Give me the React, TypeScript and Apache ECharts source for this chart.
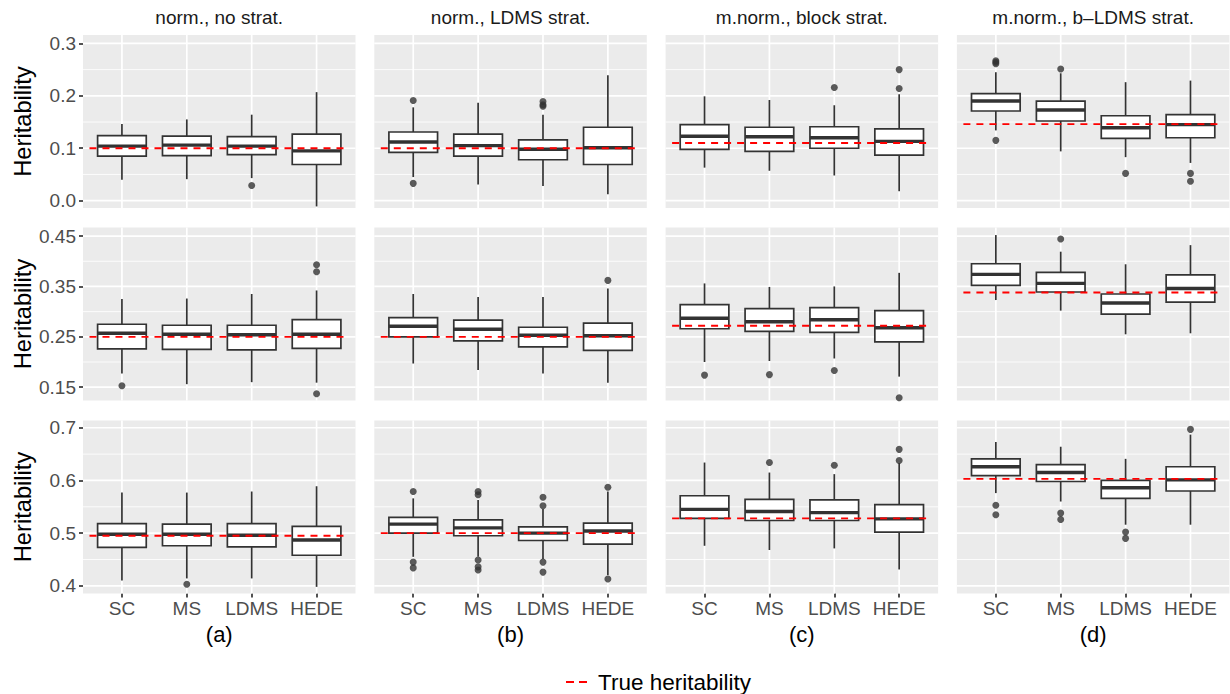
import React, { useEffect, useRef } from 'react';
import * as echarts from 'echarts';

// ---------- data ----------
const CATEGORIES = ['SC', 'MS', 'LDMS', 'HEDE'];
const COLUMN_TITLES = ['norm., no strat.', 'norm., LDMS strat.', 'm.norm., block strat.', 'm.norm., b\u2013LDMS strat.'];
const COLUMN_LABELS = ['(a)', '(b)', '(c)', '(d)'];
const Y_TITLE = 'Heritability';
const LEGEND_LABEL = 'True heritability';

// y-axis limits, ticks per row
const Y_LIMITS = [[-0.014, 0.316], [0.1236, 0.467], [0.3854, 0.7138]];
const Y_TICKS = [[0, 0.1, 0.2, 0.3], [0.15, 0.25, 0.35, 0.45], [0.4, 0.5, 0.6, 0.7]];
const Y_TICK_LABELS = [['0.0', '0.1', '0.2', '0.3'], ['0.15', '0.25', '0.35', '0.45'], ['0.4', '0.5', '0.6', '0.7']];
const Y_MINOR = [[0.05, 0.15, 0.25], [0.2, 0.3, 0.4], [0.45, 0.55, 0.65]];

// true heritability per row (rows) and column
const TRUE_H = [
  [0.1, 0.1, 0.11, 0.146],
  [0.25, 0.25, 0.272, 0.338],
  [0.495, 0.5, 0.528, 0.603],
];

// box stats: [lower whisker, Q1, median, Q3, upper whisker] for SC, MS, LDMS, HEDE
const BOX_R1_A = [[0.040, 0.085, 0.104, 0.124, 0.146], [0.041, 0.086, 0.106, 0.123, 0.155], [0.043, 0.088, 0.104, 0.122, 0.164], [-0.011, 0.069, 0.095, 0.127, 0.207]];
const BOX_R1_B = [[0.045, 0.092, 0.112, 0.131, 0.178], [0.031, 0.085, 0.105, 0.127, 0.187], [0.028, 0.078, 0.098, 0.116, 0.164], [0.012, 0.069, 0.101, 0.140, 0.239]];
const BOX_R1_C = [[0.063, 0.098, 0.123, 0.145, 0.199], [0.057, 0.094, 0.122, 0.140, 0.192], [0.048, 0.100, 0.120, 0.141, 0.182], [0.018, 0.087, 0.113, 0.137, 0.203]];
const BOX_R1_D = [[0.134, 0.171, 0.190, 0.204, 0.245], [0.094, 0.152, 0.173, 0.190, 0.243], [0.083, 0.119, 0.139, 0.162, 0.226], [0.072, 0.120, 0.145, 0.164, 0.229]];
const BOX_R2_A = [[0.177, 0.226, 0.257, 0.275, 0.325], [0.156, 0.225, 0.255, 0.273, 0.326], [0.160, 0.224, 0.254, 0.273, 0.335], [0.159, 0.227, 0.255, 0.284, 0.342]];
const BOX_R2_B = [[0.197, 0.250, 0.271, 0.288, 0.335], [0.184, 0.242, 0.265, 0.283, 0.329], [0.177, 0.230, 0.253, 0.269, 0.329], [0.159, 0.223, 0.252, 0.277, 0.346]];
const BOX_R2_C = [[0.200, 0.266, 0.287, 0.314, 0.356], [0.202, 0.261, 0.280, 0.306, 0.349], [0.207, 0.259, 0.284, 0.308, 0.350], [0.171, 0.240, 0.268, 0.302, 0.377]];
const BOX_R2_D = [[0.323, 0.352, 0.374, 0.395, 0.452], [0.302, 0.339, 0.356, 0.378, 0.419], [0.255, 0.295, 0.317, 0.335, 0.394], [0.257, 0.319, 0.346, 0.373, 0.432]];
const BOX_R3_A = [[0.410, 0.473, 0.498, 0.518, 0.577], [0.414, 0.476, 0.498, 0.517, 0.577], [0.414, 0.474, 0.496, 0.518, 0.579], [0.398, 0.458, 0.487, 0.513, 0.589]];
const BOX_R3_B = [[0.455, 0.500, 0.517, 0.530, 0.566], [0.455, 0.495, 0.510, 0.525, 0.563], [0.451, 0.486, 0.500, 0.512, 0.546], [0.420, 0.479, 0.504, 0.519, 0.579]];
const BOX_R3_C = [[0.476, 0.528, 0.545, 0.571, 0.634], [0.468, 0.524, 0.541, 0.564, 0.615], [0.471, 0.524, 0.539, 0.563, 0.612], [0.431, 0.502, 0.527, 0.554, 0.633]];
const BOX_R3_D = [[0.576, 0.609, 0.626, 0.641, 0.673], [0.560, 0.598, 0.615, 0.630, 0.664], [0.516, 0.566, 0.586, 0.600, 0.641], [0.516, 0.580, 0.601, 0.626, 0.687]];

// outliers: [category, value]
const OUT_R1_A = [['LDMS', 0.029]];
const OUT_R1_B = [['SC', 0.191], ['SC', 0.033], ['LDMS', 0.189], ['LDMS', 0.183], ['LDMS', 0.180]];
const OUT_R1_C = [['LDMS', 0.216], ['HEDE', 0.250], ['HEDE', 0.214]];
const OUT_R1_D = [['SC', 0.267], ['SC', 0.264], ['SC', 0.261], ['SC', 0.115], ['MS', 0.251], ['LDMS', 0.052], ['HEDE', 0.052], ['HEDE', 0.037]];
const OUT_R2_A = [['SC', 0.153], ['HEDE', 0.393], ['HEDE', 0.379], ['HEDE', 0.137]];
const OUT_R2_B = [['HEDE', 0.362]];
const OUT_R2_C = [['SC', 0.174], ['MS', 0.175], ['LDMS', 0.183], ['HEDE', 0.129]];
const OUT_R2_D = [['MS', 0.444]];
const OUT_R3_A = [['MS', 0.403]];
const OUT_R3_B = [['SC', 0.579], ['SC', 0.445], ['SC', 0.434], ['MS', 0.579], ['MS', 0.573], ['MS', 0.449], ['MS', 0.436], ['MS', 0.430], ['LDMS', 0.568], ['LDMS', 0.552], ['LDMS', 0.445], ['LDMS', 0.426], ['HEDE', 0.587], ['HEDE', 0.413]];
const OUT_R3_C = [['MS', 0.634], ['LDMS', 0.629], ['HEDE', 0.659], ['HEDE', 0.638]];
const OUT_R3_D = [['SC', 0.553], ['SC', 0.535], ['MS', 0.538], ['MS', 0.526], ['LDMS', 0.502], ['LDMS', 0.490], ['HEDE', 0.697]];

const BOXES = [
  [BOX_R1_A, BOX_R1_B, BOX_R1_C, BOX_R1_D],
  [BOX_R2_A, BOX_R2_B, BOX_R2_C, BOX_R2_D],
  [BOX_R3_A, BOX_R3_B, BOX_R3_C, BOX_R3_D],
];
const OUTLIERS = [
  [OUT_R1_A, OUT_R1_B, OUT_R1_C, OUT_R1_D],
  [OUT_R2_A, OUT_R2_B, OUT_R2_C, OUT_R2_D],
  [OUT_R3_A, OUT_R3_B, OUT_R3_C, OUT_R3_D],
];

// ---------- layout / style ----------
const FONT = 'Liberation Sans, Arial, Helvetica, sans-serif';
const GRID_LEFT0 = 83;
const COL_STEP = 291.3;
const GRID_W = 272.5;
const ROW_TOPS = [35, 227.5, 420.5];
const GRID_H = 173;
const X_MIN = 0.4;
const X_MAX = 4.6;
const BOX_WIDTH = 0.75;
const LINE_COL = '#333333';

function buildOption() {
  const grids: any[] = [];
  const xAxes: any[] = [];
  const yAxes: any[] = [];
  const series: any[] = [];
  const graphics: any[] = [];
  const catPos = CATEGORIES.map((_, i) => i + 1);

  for (let r = 0; r < 3; r++) {
    for (let c = 0; c < 4; c++) {
      const p = r * 4 + c;
      const [yMin, yMax] = Y_LIMITS[r];
      grids.push({
        left: GRID_LEFT0 + c * COL_STEP,
        top: ROW_TOPS[r],
        width: GRID_W,
        height: GRID_H,
        show: true,
        backgroundColor: '#EBEBEB',
        borderWidth: 0,
      });
      xAxes.push({
        type: 'value',
        gridIndex: p,
        min: X_MIN,
        max: X_MAX,
        axisLine: { show: false },
        splitLine: { show: false },
        axisTick: { show: r === 2, customValues: catPos, length: 4, lineStyle: { color: LINE_COL, width: 1.7 } },
        axisLabel: {
          show: r === 2,
          customValues: catPos,
          formatter: (v: number) => CATEGORIES[Math.round(v) - 1],
          color: '#4D4D4D',
          fontSize: 19,
          fontFamily: FONT,
          margin: 5,
        },
        name: r === 2 ? COLUMN_LABELS[c] : '',
        nameLocation: 'middle',
        nameGap: 30,
        nameTextStyle: { color: '#000', fontSize: 22, fontFamily: FONT },
      });
      const ticks = Y_TICKS[r];
      const labels = Y_TICK_LABELS[r];
      yAxes.push({
        type: 'value',
        gridIndex: p,
        min: yMin,
        max: yMax,
        axisLine: { show: false },
        splitLine: { show: false },
        axisTick: { show: c === 0, customValues: ticks, length: 4, lineStyle: { color: LINE_COL, width: 1.7 } },
        axisLabel: {
          show: c === 0,
          customValues: ticks,
          formatter: (v: number) => {
            const i = ticks.findIndex((t) => Math.abs(t - v) < 1e-9);
            return i >= 0 ? labels[i] : '';
          },
          color: '#4D4D4D',
          fontSize: 19,
          fontFamily: FONT,
          margin: 7,
        },
        name: c === 0 ? Y_TITLE : '',
        nameLocation: 'middle',
        nameGap: 48,
        nameTextStyle: { color: '#000', fontSize: 23.7, fontFamily: FONT },
      });

      // grid lines
      const gl: any[] = [];
      Y_TICKS[r].forEach((v) => gl.push([1, v, 0]));
      Y_MINOR[r].forEach((v) => gl.push([1, v, 1]));
      catPos.forEach((x) => gl.push([x, (yMin + yMax) / 2, 2]));
      series.push({
        type: 'custom',
        xAxisIndex: p,
        yAxisIndex: p,
        z: 1,
        silent: true,
        data: gl,
        renderItem: (params: any, api: any) => {
          const cs = params.coordSys;
          const kind = api.value(2);
          if (kind === 2) {
            const x = api.coord([api.value(0), api.value(1)])[0];
            return { type: 'line', shape: { x1: x, y1: cs.y, x2: x, y2: cs.y + cs.height }, style: { stroke: '#FFFFFF', lineWidth: 1.7 } };
          }
          const y = api.coord([api.value(0), api.value(1)])[1];
          return {
            type: 'line',
            shape: { x1: cs.x, y1: y, x2: cs.x + cs.width, y2: y },
            style: { stroke: '#FFFFFF', lineWidth: kind === 0 ? 1.7 : 0.85 },
          };
        },
      });

      // boxes
      const boxData = BOXES[r][c].map((s, i) => [i + 1, ...s]);
      series.push({
        type: 'custom',
        xAxisIndex: p,
        yAxisIndex: p,
        z: 2,
        silent: true,
        encode: { x: 0, y: [1, 2, 3, 4, 5] },
        data: boxData,
        renderItem: (params: any, api: any) => {
          const x = api.value(0);
          const pLo = api.coord([x, api.value(1)]);
          const pQ1 = api.coord([x, api.value(2)]);
          const pMed = api.coord([x, api.value(3)]);
          const pQ3 = api.coord([x, api.value(4)]);
          const pHi = api.coord([x, api.value(5)]);
          const hw = api.size([BOX_WIDTH, 0])[0] / 2;
          const st = { stroke: LINE_COL, lineWidth: 1.7 };
          return {
            type: 'group',
            children: [
              { type: 'line', shape: { x1: pLo[0], y1: pLo[1], x2: pQ1[0], y2: pQ1[1] }, style: st },
              { type: 'line', shape: { x1: pQ3[0], y1: pQ3[1], x2: pHi[0], y2: pHi[1] }, style: st },
              {
                type: 'rect',
                shape: { x: pQ1[0] - hw, y: pQ3[1], width: hw * 2, height: pQ1[1] - pQ3[1] },
                style: { fill: '#FFFFFF', stroke: LINE_COL, lineWidth: 1.7 },
              },
              { type: 'line', shape: { x1: pMed[0] - hw, y1: pMed[1], x2: pMed[0] + hw, y2: pMed[1] }, style: { stroke: LINE_COL, lineWidth: 3.4 } },
            ],
          };
        },
      });

      // outliers
      series.push({
        type: 'scatter',
        xAxisIndex: p,
        yAxisIndex: p,
        z: 3,
        silent: true,
        symbol: 'circle',
        symbolSize: 7,
        itemStyle: { color: LINE_COL },
        data: OUTLIERS[r][c].map(([cat, v]) => [CATEGORIES.indexOf(cat as string) + 1, v]),
      });

      // true heritability line
      series.push({
        type: 'custom',
        name: LEGEND_LABEL,
        xAxisIndex: p,
        yAxisIndex: p,
        z: 4,
        silent: true,
        data: [[0.5, TRUE_H[r][c], 4.5]],
        renderItem: (params: any, api: any) => {
          const a = api.coord([api.value(0), api.value(1)]);
          const b = api.coord([api.value(2), api.value(1)]);
          return {
            type: 'line',
            shape: { x1: a[0], y1: a[1], x2: b[0], y2: b[1] },
            style: { stroke: '#FF0000', lineWidth: 1.8, lineDash: [7, 6] },
          };
        },
      });
    }
  }

  // strip titles
  COLUMN_TITLES.forEach((t, c) => {
    graphics.push({
      type: 'text',
      x: GRID_LEFT0 + c * COL_STEP + GRID_W / 2,
      y: 17,
      style: { text: t, fill: '#1A1A1A', font: `19px ${FONT}`, textAlign: 'center', textVerticalAlign: 'middle' },
    });
  });

  // legend
  graphics.push({
    type: 'line',
    shape: { x1: 566, y1: 682, x2: 592, y2: 682 },
    style: { stroke: '#FF0000', lineWidth: 1.8, lineDash: [8, 5] },
  });
  graphics.push({
    type: 'text',
    x: 598,
    y: 682,
    style: { text: LEGEND_LABEL, fill: '#000000', font: `22.5px ${FONT}`, textAlign: 'left', textVerticalAlign: 'middle' },
  });

  return {
    animation: false,
    backgroundColor: '#FFFFFF',
    grid: grids,
    xAxis: xAxes,
    yAxis: yAxes,
    series,
    graphic: graphics,
  };
}

export default function App() {
  const ref = useRef<HTMLDivElement>(null);
  useEffect(() => {
    document.body.style.margin = '0';
    const chart = echarts.init(ref.current!, null, { renderer: 'svg' });
    chart.setOption(buildOption() as any);
    return () => chart.dispose();
  }, []);
  return <div ref={ref} style={{ width: 1230, height: 694 }} />;
}
